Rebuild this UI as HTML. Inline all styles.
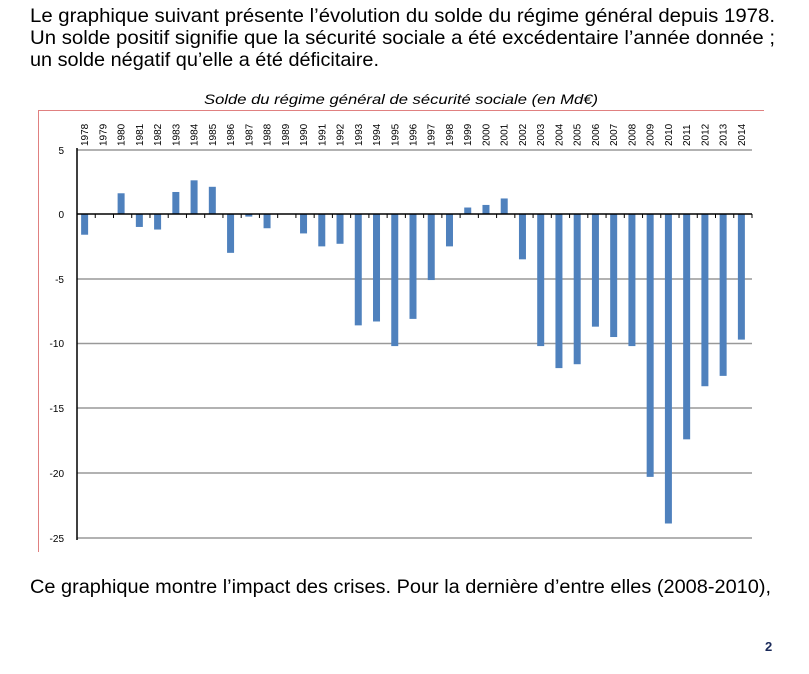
<!DOCTYPE html>
<html><head><meta charset="utf-8"><style>
body{margin:0;background:#fff;width:809px;height:669px;overflow:hidden;font-family:"Liberation Sans",sans-serif}
</style></head><body>
<svg width="809" height="669" xmlns="http://www.w3.org/2000/svg" font-family="Liberation Sans, sans-serif">
<text x="30" y="22" font-size="19.5" fill="#000" textLength="745" lengthAdjust="spacingAndGlyphs">Le graphique suivant présente l’évolution du solde du régime général depuis 1978.</text>
<text x="30" y="44" font-size="19.5" fill="#000" textLength="745" lengthAdjust="spacingAndGlyphs">Un solde positif signifie que la sécurité sociale a été excédentaire l’année donnée ;</text>
<text x="30" y="66" font-size="19.5" fill="#000" textLength="349" lengthAdjust="spacingAndGlyphs">un solde négatif qu’elle a été déficitaire.</text>
<text x="204" y="104" font-size="14" font-style="italic" textLength="394" lengthAdjust="spacingAndGlyphs">Solde du régime général de sécurité sociale (en Md€)</text>
<line x1="38.5" y1="110" x2="38.5" y2="552" stroke="#e08080" stroke-width="1"/>
<line x1="38" y1="110.5" x2="764" y2="110.5" stroke="#e08080" stroke-width="1"/>
<g stroke="#999" stroke-width="1.5">
<line x1="77" y1="150" x2="752" y2="150"/>
<line x1="77" y1="279" x2="752" y2="279"/>
<line x1="77" y1="343.5" x2="752" y2="343.5"/>
<line x1="77" y1="408" x2="752" y2="408"/>
<line x1="77" y1="473" x2="752" y2="473"/>
<line x1="77" y1="538" x2="752" y2="538"/>
</g>
<g font-size="10" text-anchor="end">
<text x="64" y="154">5</text><text x="64" y="218">0</text><text x="64" y="283">-5</text>
<text x="64" y="347">-10</text><text x="64" y="412">-15</text><text x="64" y="477">-20</text><text x="64" y="542">-25</text>
</g>
<g id="bars"></g>
<line x1="77" y1="214" x2="752" y2="214" stroke="#000" stroke-width="1.5"/>
<line x1="77" y1="148" x2="77" y2="540" stroke="#000" stroke-width="1.5"/>
<g id="ticks"></g>
<g id="labels" font-size="10"></g>
<text x="30" y="593" font-size="19" fill="#000" textLength="741" lengthAdjust="spacingAndGlyphs">Ce graphique montre l’impact des crises. Pour la dernière d’entre elles (2008-2010),</text>
<text x="765" y="651" font-size="13" font-weight="bold" fill="#1a2a5a">2</text>
<script>
var v=[-1.6,0,1.6,-1.0,-1.2,1.7,2.6,2.1,-3.0,-0.2,-1.1,0,-1.5,-2.5,-2.3,-8.6,-8.3,-10.2,-8.1,-5.1,-2.5,0.5,0.7,1.2,-3.5,-10.2,-11.9,-11.6,-8.7,-9.5,-10.2,-20.3,-23.9,-17.4,-13.3,-12.5,-9.7];
var ns="http://www.w3.org/2000/svg",w=675/37,s=12.95,b=document.getElementById('bars'),t=document.getElementById('ticks'),l=document.getElementById('labels');
for(var i=0;i<37;i++){var c=77+w*(i+0.5)-1.5;
var r=document.createElementNS(ns,'rect');var h=Math.abs(v[i])*s;
r.setAttribute('x',c-3.5);r.setAttribute('width',7);r.setAttribute('y',v[i]>0?214-h:214);r.setAttribute('height',h);r.setAttribute('fill','#4f81bd');b.appendChild(r);
var k=document.createElementNS(ns,'line');var x=77+w*(i+1);k.setAttribute('x1',x);k.setAttribute('x2',x);k.setAttribute('y1',214);k.setAttribute('y2',218);k.setAttribute('stroke','#000');t.appendChild(k);
var tx=document.createElementNS(ns,'text');tx.setAttribute('transform','translate('+(c+3.5)+',146) rotate(-90)');tx.textContent=1978+i;l.appendChild(tx);}
</script>
</svg>
</body></html>
